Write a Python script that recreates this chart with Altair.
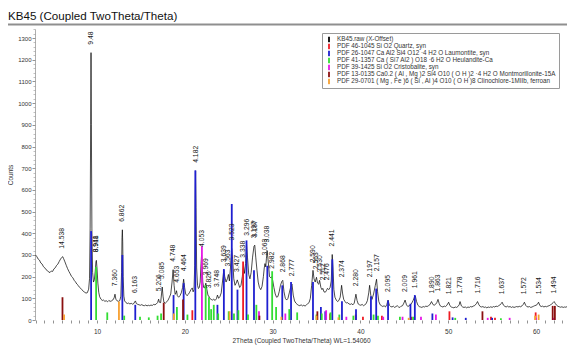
import altair as alt
import pandas as pd

TITLE = "KB45 (Coupled TwoTheta/Theta)"
X_TITLE = "2Theta (Coupled TwoTheta/Theta) WL=1.54060"
Y_TITLE = "Counts"

PHASES = [
    "KB45.raw (X-Offset)",
    "PDF 46-1045 Si O2 Quartz, syn",
    "PDF 26-1047 Ca Al2 Si4 O12 ·4 H2 O Laumontite, syn",
    "PDF 41-1357 Ca ( Si7 Al2 ) O18 ·6 H2 O Heulandite-Ca",
    "PDF 39-1425 Si O2 Cristobalite, syn",
    "PDF 13-0135 Ca0.2 ( Al , Mg )2 Si4 O10 ( O H )2 ·4 H2 O Montmorillonite-15A",
    "PDF 29-0701 ( Mg , Fe )6 ( Si , Al )4 O10 ( O H )8 Clinochlore-1MIIb, ferroan",
]
COLORS = ["#000000", "#ee1c24", "#1f1fd0", "#33dd33", "#e619e6", "#8b1010", "#f7a030"]

# measured pattern (2theta, counts)
TT = [3.00, 3.15, 3.30, 3.45, 3.60, 3.75, 3.90, 4.05, 4.20, 4.35, 4.50, 4.65, 4.80, 4.95, 5.10, 5.25, 5.40, 5.55, 5.70, 5.85,
      6.00, 6.10, 6.20, 6.35, 6.50, 6.65, 6.80, 6.95, 7.10, 7.25, 7.40, 7.55, 7.70, 7.85, 8.00, 8.15, 8.30, 8.45, 8.60, 8.75,
      8.90, 9.05, 9.15, 9.22, 9.28, 9.32, 9.36, 9.42, 9.50, 9.60, 9.70, 9.80, 9.88, 9.93, 10.00, 10.10, 10.20, 10.30, 10.45, 10.60,
      10.75, 10.90, 11.05, 11.20, 11.35, 11.50, 11.65, 11.80, 11.95, 12.05, 12.15, 12.30, 12.45, 12.60, 12.72, 12.80, 12.85, 12.89, 12.93, 12.98,
      13.06, 13.15, 13.30, 13.45, 13.60, 13.75, 13.90, 14.05, 14.20, 14.30, 14.38, 14.48, 14.65, 14.80, 14.95, 15.10, 15.25, 15.40, 15.55, 15.70,
      15.85, 16.00, 16.15, 16.30, 16.45, 16.60, 16.75, 16.90, 17.02, 17.10, 17.25, 17.35, 17.43, 17.52, 17.62, 17.80, 17.95, 18.10, 18.25, 18.40,
      18.55, 18.67, 18.78, 18.90, 19.00, 19.06, 19.15, 19.30, 19.45, 19.60, 19.75, 19.87, 19.98, 20.10, 20.25, 20.40, 20.55, 20.70, 20.85, 20.95,
      21.05, 21.13, 21.19, 21.23, 21.28, 21.35, 21.45, 21.55, 21.65, 21.75, 21.85, 21.91, 21.97, 22.05, 22.15, 22.25, 22.33, 22.40, 22.52, 22.65,
      22.75, 22.85, 23.00, 23.15, 23.30, 23.45, 23.60, 23.72, 23.85, 24.00, 24.15, 24.30, 24.44, 24.55, 24.70, 24.85, 24.97, 25.08, 25.20, 25.34,
      25.45, 25.58, 25.72, 25.85, 25.98, 26.10, 26.25, 26.40, 26.55, 26.68, 26.80, 26.92, 27.03, 27.14, 27.28, 27.42, 27.56, 27.72, 27.88, 27.97,
      28.08, 28.22, 28.36, 28.50, 28.65, 28.80, 28.95, 29.05, 29.13, 29.22, 29.30, 29.38, 29.50, 29.65, 29.80, 29.90, 30.00, 30.15, 30.30, 30.45,
      30.60, 30.75, 30.90, 31.05, 31.16, 31.30, 31.45, 31.60, 31.75, 31.90, 32.05, 32.21, 32.35, 32.50, 32.65, 32.80, 32.95, 33.10, 33.25, 33.40,
      33.55, 33.70, 33.85, 34.00, 34.15, 34.30, 34.45, 34.60, 34.72, 34.85, 35.00, 35.12, 35.25, 35.35, 35.50, 35.62, 35.72, 35.85, 36.00, 36.12,
      36.25, 36.40, 36.55, 36.68, 36.79, 36.88, 36.98, 37.10, 37.25, 37.40, 37.55, 37.70, 37.86, 37.98, 38.10, 38.25, 38.40, 38.55, 38.70, 38.85,
      39.00, 39.15, 39.30, 39.49, 39.62, 39.75, 39.90, 40.05, 40.20, 40.35, 40.50, 40.65, 40.80, 40.95, 41.05, 41.18, 41.32, 41.50, 41.70, 41.84,
      41.96, 42.10, 42.25, 42.40, 42.55, 42.70, 42.85, 43.00, 43.15, 43.30, 43.45, 43.60, 43.75, 43.90, 44.05, 44.20, 44.35, 44.50, 44.65, 44.80,
      44.95, 45.09, 45.25, 45.40, 45.55, 45.70, 45.85, 46.00, 46.15, 46.26, 46.40, 46.55, 46.70, 46.85, 47.00, 47.15, 47.30, 47.45, 47.60, 47.75,
      47.90, 48.10, 48.25, 48.40, 48.55, 48.70, 48.84, 48.98, 49.10, 49.25, 49.40, 49.55, 49.70, 49.85, 50.05, 50.20, 50.35, 50.50, 50.65, 50.80,
      50.95, 51.10, 51.25, 51.35, 51.50, 51.65, 51.80, 51.95, 52.10, 52.25, 52.40, 52.55, 52.70, 52.85, 53.00, 53.20, 53.34, 53.50, 53.65, 53.80,
      53.95, 54.10, 54.25, 54.40, 54.55, 54.70, 54.85, 55.00, 55.15, 55.30, 55.45, 55.60, 55.75, 55.90, 56.05, 56.14, 56.30, 56.45, 56.60, 56.75,
      56.90, 57.05, 57.20, 57.35, 57.50, 57.65, 57.80, 57.95, 58.10, 58.25, 58.40, 58.55, 58.68, 58.82, 58.95, 59.10, 59.25, 59.40, 59.55, 59.70,
      59.85, 60.00, 60.15, 60.29, 60.45, 60.60, 60.75, 60.90, 61.05, 61.20, 61.35, 61.50, 61.65, 61.80, 61.95, 62.07, 62.20, 62.35, 62.50, 62.65,
      62.80, 62.95, 63.10, 63.25, 63.40, 63.55, 63.70, 63.85, 64.00, 64.20, 64.38, 64.50]
CNT = [300, 292, 281, 276, 263, 258, 246, 241, 232, 228, 221, 219, 226, 224, 236, 241, 252, 258, 270, 281,
       289, 292, 283, 268, 252, 237, 224, 213, 201, 195, 183, 176, 166, 160, 151, 146, 139, 132, 128, 124,
       126, 142, 190, 420, 900, 1233, 900, 420, 220, 175, 185, 225, 268, 275, 240, 170, 128, 108, 96, 90,
       92, 86, 89, 84, 90, 86, 88, 92, 102, 119, 96, 88, 86, 90, 110, 220, 380, 416, 360, 200,
       110, 88, 80, 76, 78, 74, 77, 73, 76, 84, 88, 76, 72, 70, 68, 71, 67, 66, 69, 65,
       68, 66, 69, 67, 72, 70, 74, 80, 96, 82, 80, 120, 152, 110, 82, 78, 84, 92, 105, 120,
       175, 232, 160, 118, 125, 135, 112, 105, 112, 125, 150, 188, 150, 120, 112, 118, 128, 140, 148, 130,
       140, 250, 560, 688, 520, 240, 160, 145, 150, 175, 260, 300, 250, 175, 150, 148, 160, 170, 140, 112,
       110, 100, 95, 92, 96, 90, 98, 115, 100, 108, 125, 180, 230, 200, 175, 190, 210, 180, 240, 330,
       280, 190, 160, 170, 185, 170, 150, 160, 200, 250, 215, 260, 352, 290, 210, 190, 220, 290, 340, 345,
       290, 230, 175, 150, 140, 155, 200, 240, 260, 245, 285, 320, 270, 200, 195, 200, 185, 150, 120, 105,
       108, 130, 160, 178, 183, 130, 100, 92, 100, 125, 150, 165, 115, 88, 78, 72, 68, 66, 70, 65,
       68, 64, 70, 75, 80, 100, 160, 229, 190, 175, 197, 170, 165, 183, 150, 140, 146, 130, 128, 135,
       146, 140, 150, 180, 302, 240, 140, 105, 92, 85, 90, 105, 160, 120, 95, 85, 78, 80, 74, 72,
       75, 70, 78, 119, 90, 74, 70, 68, 72, 66, 70, 75, 90, 125, 160, 115, 95, 120, 160, 188,
       130, 85, 70, 66, 62, 66, 60, 70, 92, 68, 62, 60, 64, 58, 62, 66, 60, 58, 64, 66,
       78, 92, 70, 62, 66, 70, 78, 90, 105, 110, 85, 68, 62, 60, 58, 62, 60, 64, 62, 66,
       70, 85, 72, 68, 72, 80, 95, 75, 65, 62, 60, 64, 62, 68, 82, 66, 60, 58, 56, 60,
       58, 62, 70, 85, 65, 60, 58, 60, 56, 60, 58, 62, 60, 64, 66, 75, 85, 70, 62, 60,
       62, 58, 60, 56, 60, 58, 61, 58, 62, 60, 64, 62, 66, 70, 76, 82, 68, 63, 60, 64,
       60, 62, 58, 61, 58, 60, 62, 60, 63, 61, 65, 72, 82, 68, 62, 60, 62, 58, 60, 63,
       66, 68, 72, 82, 66, 62, 64, 60, 63, 61, 64, 66, 70, 74, 80, 85, 76, 68, 63, 61,
       59, 61, 58, 60, 59, 62, 60, 64, 68, 72, 78, 70]

# reference stick patterns (2theta, height in counts)
QZ_TT = [20.86, 26.64, 36.54, 39.47, 40.29, 42.45, 45.79, 50.14, 54.87, 55.33, 59.96, 64.0]
QZ_H = [45, 270, 30, 25, 15, 20, 15, 40, 15, 10, 35, 10]
LAU_TT = [9.33, 12.89, 14.36, 18.72, 19.87, 21.20, 23.72, 24.45, 25.35, 26.00, 27.03, 27.88, 29.40, 31.10, 32.10,
          34.60, 35.50, 36.00, 36.80, 37.90, 39.50, 41.20, 41.80, 43.15, 45.70, 46.20, 48.20, 50.50, 52.00, 55.00]
LAU_H = [410, 300, 70, 115, 170, 690, 70, 235, 535, 140, 367, 230, 250, 160, 175,
         175, 60, 40, 280, 87, 50, 110, 145, 90, 75, 115, 30, 12, 10, 10]
HEU_TT = [9.90, 11.17, 13.10, 14.90, 15.90, 16.90, 17.30, 19.10, 20.30, 22.38, 22.75, 23.00, 23.30, 23.80, 25.00,
          25.60, 26.10, 27.20, 28.15, 29.95, 30.40, 31.90, 32.80, 35.00, 35.60, 36.60, 37.60, 39.20, 41.50, 42.00,
          44.50, 46.00, 50.80, 56.00]
HEU_H = [245, 35, 20, 15, 12, 20, 30, 60, 25, 160, 105, 50, 70, 30, 40,
         30, 45, 25, 70, 225, 60, 50, 35, 25, 30, 35, 25, 20, 25, 20,
         15, 15, 10, 8]
CRI_TT = [21.95, 28.45, 31.45, 36.10, 38.40, 42.60, 44.80, 46.90, 48.60, 54.50, 57.00, 60.00, 62.00]
CRI_H = [340, 40, 30, 45, 15, 15, 15, 15, 25, 10, 10, 10, 10]
MON_TT = [6.07, 17.60, 19.80, 28.50, 35.10, 53.90, 61.90, 62.15]
MON_H = [105, 80, 95, 20, 40, 40, 65, 65]
CLI_TT = [6.25, 12.50, 18.75, 25.10, 31.00, 35.00, 37.50, 45.50, 59.90, 60.30]
CLI_H = [25, 85, 30, 40, 15, 20, 12, 10, 20, 25]

# peak labels (d-spacing in Angstrom) at their peaks
PK_TT = [6.07, 9.32, 9.88, 9.92, 12.02, 12.89, 14.36, 17.02, 17.43, 18.67, 19.06, 19.87, 21.23, 21.91, 22.40,
         22.75, 23.72, 24.44, 24.97, 25.34, 25.98, 26.68, 27.03, 27.88, 27.97, 29.13, 29.38, 29.90, 31.16, 32.21,
         34.60, 35.00, 35.35, 35.72, 36.25, 36.79, 37.86, 39.49, 41.05, 41.84, 43.15, 45.09, 46.26, 48.10, 48.84,
         50.05, 51.35, 53.34, 56.14, 58.68, 60.29, 62.07, 64.38]
PK_TXT = ["14.538", "9.48", "8.941", "8.918", "7.360", "6.862", "6.163", "5.206", "5.085", "4.748", "4.653", "4.464",
          "4.182", "4.053", "3.969", "3.826", "3.748", "3.639", "3.563", "3.523", "3.427", "3.338", "3.296", "3.197",
          "3.187", "3.063", "3.038", "2.982", "2.868", "2.777", "2.590", "2.563", "2.530", "2.512", "2.476", "2.441",
          "2.374", "2.280", "2.197", "2.157", "2.095", "2.009", "1.961", "1.890", "1.863", "1.821", "1.778", "1.716",
          "1.637", "1.572", "1.534", "1.494", "1.446"]
PK_Y = [292, 1233, 275, 275, 119, 416, 88, 96, 152, 232, 135, 188, 688, 300, 170,
        110, 115, 230, 210, 330, 185, 250, 352, 340, 345, 260, 320, 200, 183, 165,
        229, 197, 183, 146, 146, 302, 160, 119, 160, 188, 92, 92, 110, 85, 95,
        82, 85, 85, 82, 82, 82, 85, 78]

FONT = "Liberation Sans"
X_DOMAIN = [2.94, 63.53]
Y_DOMAIN = [0, 1342]
HEAD_RULE_Y = 1363  # counts level of the rule under the title (just above the frame)

pattern = pd.DataFrame({"tt": TT, "cnt": CNT, "phase": PHASES[0]})
stick_sets = [(QZ_TT, QZ_H, PHASES[1]), (LAU_TT, LAU_H, PHASES[2]), (HEU_TT, HEU_H, PHASES[3]),
              (CRI_TT, CRI_H, PHASES[4]), (MON_TT, MON_H, PHASES[5]), (CLI_TT, CLI_H, PHASES[6])]
sticks = pd.concat([pd.DataFrame({"tt": t, "h": h, "phase": p}) for t, h, p in stick_sets], ignore_index=True)
peaks = pd.DataFrame({"tt": PK_TT, "txt": PK_TXT, "ypk": PK_Y})
head = pd.DataFrame({"title": [TITLE], "ry": [HEAD_RULE_Y]})

xscale = alt.Scale(domain=X_DOMAIN, nice=False, zero=False)
yscale = alt.Scale(domain=Y_DOMAIN, nice=False)
color = alt.Color(
    "phase:N",
    scale=alt.Scale(domain=PHASES, range=COLORS),
    sort=PHASES,
    legend=alt.Legend(
        title=None, orient="none", legendX=287, legendY=4, direction="vertical",
        symbolType="M0,-1L0,1", symbolSize=30, symbolStrokeWidth=1.8,
        labelFontSize=6.3, labelFont=FONT, labelColor="#333", labelLimit=400,
        rowPadding=0, clipHeight=6.8, padding=3, fillColor="white", strokeColor="#9a9a9a",
        cornerRadius=0, labelOffset=4,
    ),
)

x_axis = alt.Axis(
    title=X_TITLE, values=list(range(3, 64)),
    labelExpr="datum.value % 10 === 0 ? datum.label : ''", labelOverlap=False,
    grid=False, domain=False, tickSize=3, tickColor="#777", tickWidth=0.8,
    labelFontSize=6.5, labelFont=FONT, labelColor="#333", labelPadding=5,
    titleFontSize=6.5, titleFont=FONT, titleFontWeight="normal", titleColor="#333", titlePadding=3,
)
y_axis = alt.Axis(
    title=Y_TITLE, values=list(range(0, 1301, 100)), format="d", grid=False, labelOverlap=False,
    domainColor="#999", domainWidth=0.8, tickSize=3, tickColor="#777", tickWidth=0.8,
    labelFontSize=6, labelFont=FONT, labelColor="#333", labelPadding=1,
    titleFontSize=6.5, titleFont=FONT, titleFontWeight="normal", titleColor="#333", titlePadding=4,
)
y_minor = alt.Axis(
    title=None, values=list(range(0, 1341, 20)), grid=False, labels=False, domain=False,
    tickSize=2, tickColor="#999", tickWidth=0.6, orient="left",
)

line = alt.Chart(pattern).mark_line(strokeWidth=0.7, clip=True).encode(
    x=alt.X("tt:Q", scale=xscale, axis=x_axis),
    y=alt.Y("cnt:Q", scale=yscale, axis=y_axis),
    color=color,
)
rules = alt.Chart(sticks).mark_rule(strokeWidth=1.8, clip=True).encode(
    x=alt.X("tt:Q", scale=xscale, axis=x_axis),
    y=alt.Y("h:Q", scale=yscale, axis=y_minor),
    y2=alt.datum(0),
    color=color,
)
labels = alt.Chart(peaks).mark_text(
    angle=270, align="left", baseline="middle", dx=8, fontSize=6.8, font=FONT, color="#222"
).encode(
    x=alt.X("tt:Q", scale=xscale, axis=x_axis),
    y=alt.Y("ypk:Q", scale=yscale, axis=None),
    text="txt:N",
)
title_line = alt.Chart(head).mark_rule(color="#8f8f8f", strokeWidth=2).encode(
    x=alt.value(-27), x2=alt.value(532),
    y=alt.Y("ry:Q", scale=yscale, axis=None),
)
title_text = alt.Chart(head).mark_text(
    align="left", baseline="alphabetic", fontSize=11.6, font=FONT, color="#111"
).encode(
    x=alt.value(-27), y=alt.value(-9.5), text="title:N"
)

chart = alt.layer(line, rules, labels, title_line, title_text).resolve_scale(
    y="shared", x="shared"
).resolve_axis(y="independent").properties(
    width=532, height=291,
    autosize=alt.AutoSizeParams(type="none"),
    padding={"left": 27, "top": 21, "right": 0, "bottom": 26},
).configure_view(stroke=None)

chart.save("out.html", embed_options={"renderer": "svg", "actions": False})
